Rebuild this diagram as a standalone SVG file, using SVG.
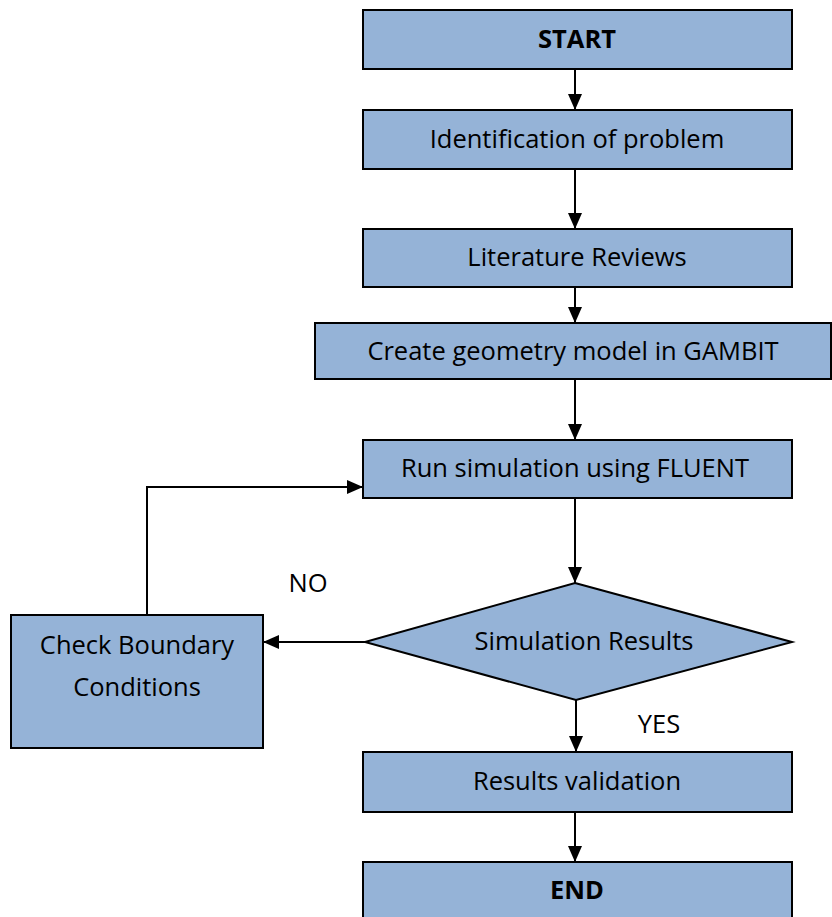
<svg xmlns="http://www.w3.org/2000/svg" width="832" height="917" viewBox="0 0 832 917">
<style>
.box{fill:#95B3D7;stroke:#000;stroke-width:2}
.t{font-family:"Open Sans","Liberation Sans",sans-serif;font-size:25.5px;fill:#000;text-anchor:middle}
.b{font-weight:bold}
.c{fill:none;stroke:#000;stroke-width:2}
</style>
<defs>
<marker id="ah" viewBox="0 0 16 16" refX="16" refY="8" markerWidth="16" markerHeight="16" markerUnits="userSpaceOnUse" orient="auto">
<path d="M0,1 L16,8 L0,15 z" fill="#000"/>
</marker>
</defs>
<rect width="832" height="917" fill="#fff"/>
<g id="connectors">
<path class="c" d="M575,69 V110" marker-end="url(#ah)"/>
<path class="c" d="M575,169 V229" marker-end="url(#ah)"/>
<path class="c" d="M575,287 V323" marker-end="url(#ah)"/>
<path class="c" d="M575,379 V440" marker-end="url(#ah)"/>
<path class="c" d="M575,498 V583" marker-end="url(#ah)"/>
<path class="c" d="M576,700 V752" marker-end="url(#ah)"/>
<path class="c" d="M575,812 V862" marker-end="url(#ah)"/>
<path class="c" d="M365,642 H263" marker-end="url(#ah)"/>
<path class="c" d="M147,615 V487 H363" marker-end="url(#ah)"/>
<text class="t" x="308" y="592">NO</text>
<text class="t" x="659" y="733">YES</text>
</g>
<g id="start"><rect class="box" x="363" y="10" width="429" height="59"/><text class="t b" x="577" y="48">START</text></g>
<g id="identification"><rect class="box" x="363" y="110" width="429" height="59"/><text class="t" x="577" y="148">Identification of problem</text></g>
<g id="literature"><rect class="box" x="363" y="229" width="429" height="58"/><text class="t" x="577" y="266">Literature Reviews</text></g>
<g id="gambit"><rect class="box" x="315" y="323" width="516" height="56"/><text class="t" x="573" y="360">Create geometry model in GAMBIT</text></g>
<g id="fluent"><rect class="box" x="363" y="440" width="429" height="58"/><text class="t" x="575" y="477">Run simulation using FLUENT</text></g>
<g id="decision"><polygon class="box" points="575,583 792,642 576,700 365,642"/><text class="t" x="584" y="650">Simulation Results</text></g>
<g id="check"><rect class="box" x="11" y="615" width="252" height="133"/><text class="t" x="137" y="654">Check Boundary</text><text class="t" x="137" y="696">Conditions</text></g>
<g id="validation"><rect class="box" x="363" y="752" width="429" height="60"/><text class="t" x="577" y="790">Results validation</text></g>
<g id="end"><rect class="box" x="363" y="862" width="429" height="60"/><text class="t b" x="577" y="899">END</text></g>
</svg>
